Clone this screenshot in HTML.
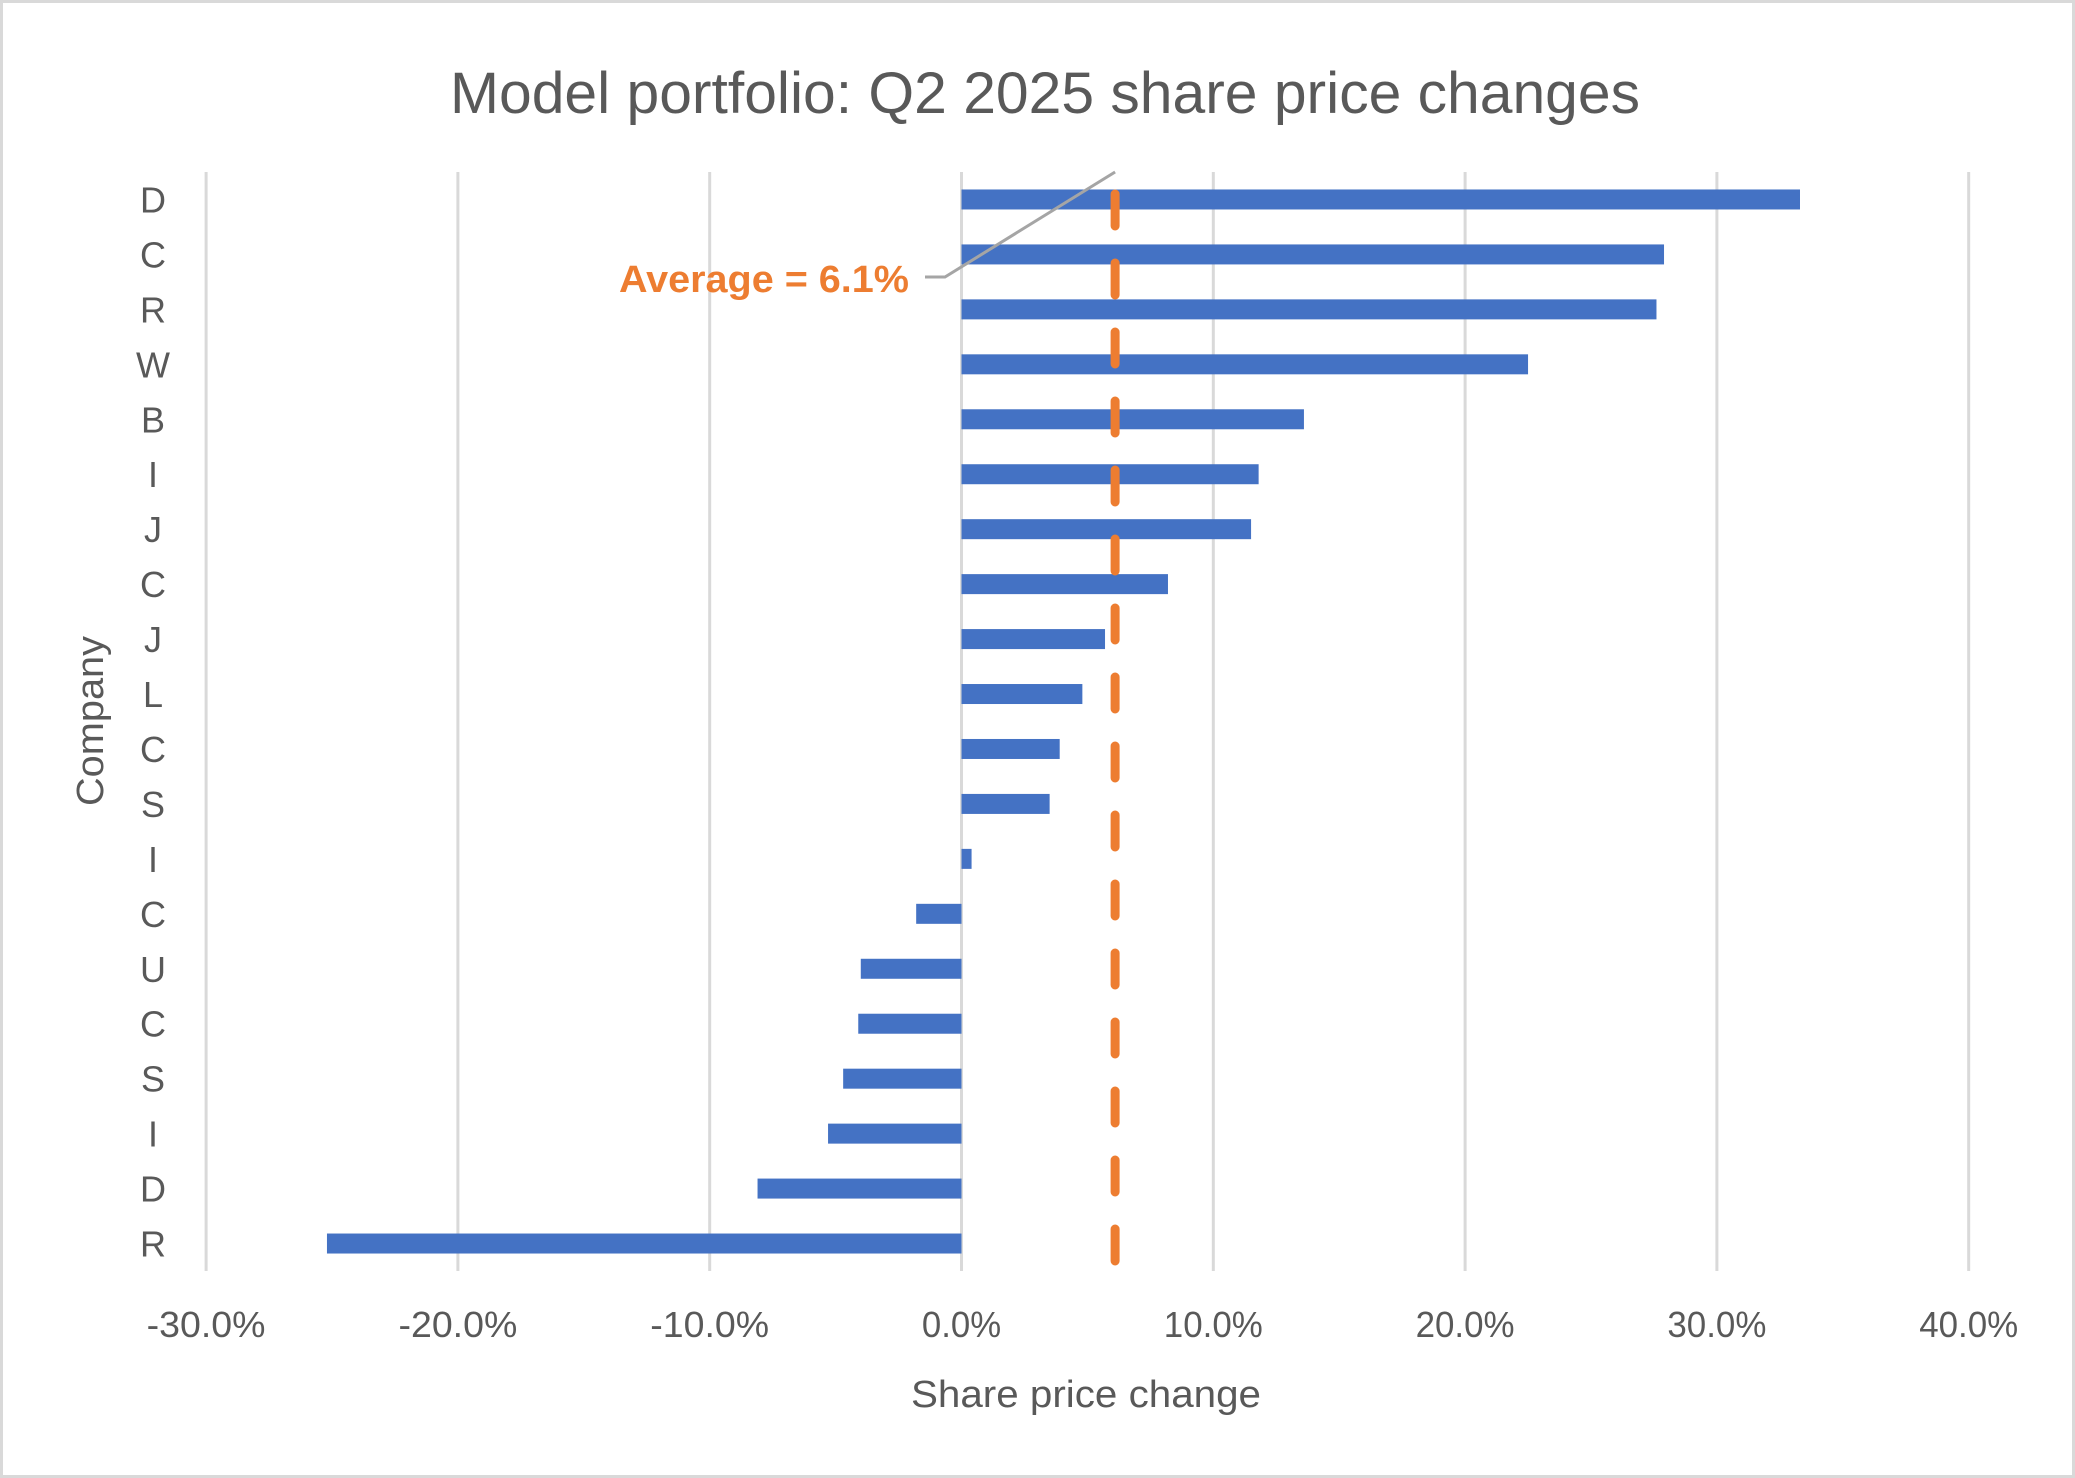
<!DOCTYPE html>
<html><head><meta charset="utf-8"><style>
html,body{margin:0;padding:0;background:#fff;}
svg{display:block;font-family:"Liberation Sans",sans-serif;}
</style></head><body>
<svg id="chart" width="2075" height="1478" viewBox="0 0 2075 1478">
<rect x="1.5" y="1.5" width="2072" height="1475" fill="#fff" stroke="#d9d9d9" stroke-width="3"/>
<text x="1045" y="113" text-anchor="middle" font-size="58" fill="#595959" textLength="1190" lengthAdjust="spacingAndGlyphs">Model portfolio: Q2 2025 share price changes</text>
<g id="grid"></g>
<g id="bars"></g>
<g id="ylabels"></g>
<g id="xlabels"></g>
<g id="avg"></g>
<text x="1086" y="1407" text-anchor="middle" font-size="38" fill="#595959" textLength="350" lengthAdjust="spacingAndGlyphs">Share price change</text>
<text transform="translate(103,721) rotate(-90)" text-anchor="middle" font-size="38" fill="#595959" textLength="170" lengthAdjust="spacingAndGlyphs">Company</text>
</svg>
<script>
const categories = ["D","C","R","W","B","I","J","C","J","L","C","S","I","C","U","C","S","I","D","R"];
const values = [33.3,27.9,27.6,22.5,13.6,11.8,11.5,8.2,5.7,4.8,3.9,3.5,0.4,-1.8,-4.0,-4.1,-4.7,-5.3,-8.1,-25.2];
const xTicks = [-30,-20,-10,0,10,20,30,40];
const xTickLabels = ["-30.0%","-20.0%","-10.0%","0.0%","10.0%","20.0%","30.0%","40.0%"];
const averageValue = 6.1;

const NS = "http://www.w3.org/2000/svg";
const plotTop = 172, plotBottom = 1271;
const x0 = 961.5, pxPer = 25.18;
const xScale = v => x0 + v * pxPer;
const band = (plotBottom - plotTop) / categories.length;
const yScale = i => plotTop + band * (i + 0.5);
function mk(tag, attrs, parent){const e=document.createElementNS(NS,tag);for(const k in attrs)e.setAttribute(k,attrs[k]);parent.appendChild(e);return e;}

const grid = document.getElementById('grid');
const xl = document.getElementById('xlabels');
xTicks.forEach((t,i)=>{
  const l = mk('line',{x1:xScale(t),x2:xScale(t),y1:plotTop,y2:plotBottom,stroke:'#d9d9d9','stroke-width':3},grid);
  
  
  const lab = xTickLabels[i];
  const tx = mk('text',{x:xScale(t),y:1337,'text-anchor':'middle','font-size':36,fill:'#595959',textLength:lab.length*19.8,lengthAdjust:'spacingAndGlyphs'},xl);
  tx.textContent = lab;
  
  
});

const bars = document.getElementById('bars');
const yl = document.getElementById('ylabels');
const bh = 20;
values.forEach((v,i)=>{
  const xa = xScale(Math.min(0,v)), xb = xScale(Math.max(0,v));
  const r = mk('rect',{x:xa,y:yScale(i)-bh/2,width:xb-xa,height:bh,fill:'#4472c4'},bars);
  
  
  const tx = mk('text',{x:153,y:yScale(i)+13,'text-anchor':'middle','font-size':36,fill:'#595959'},yl);
  tx.textContent = categories[i];
  
  
});

const avg = document.getElementById('avg');
const ax = xScale(averageValue);
const al = mk('line',{x1:ax,x2:ax,y1:194,y2:plotBottom,stroke:'#ed7d31','stroke-width':9,'stroke-linecap':'round','stroke-dasharray':'32 37'},avg);


const ld = mk('polyline',{points:`${ax},172 945,277 925,277`,fill:'none',stroke:'#a5a5a5','stroke-width':3},avg);


const at = mk('text',{x:909,y:292,'text-anchor':'end','font-size':38,'font-weight':'bold',fill:'#ed7d31',textLength:290,lengthAdjust:'spacingAndGlyphs'},avg);
at.textContent = 'Average = ' + averageValue.toFixed(1) + '%';


</script>
</body></html>
